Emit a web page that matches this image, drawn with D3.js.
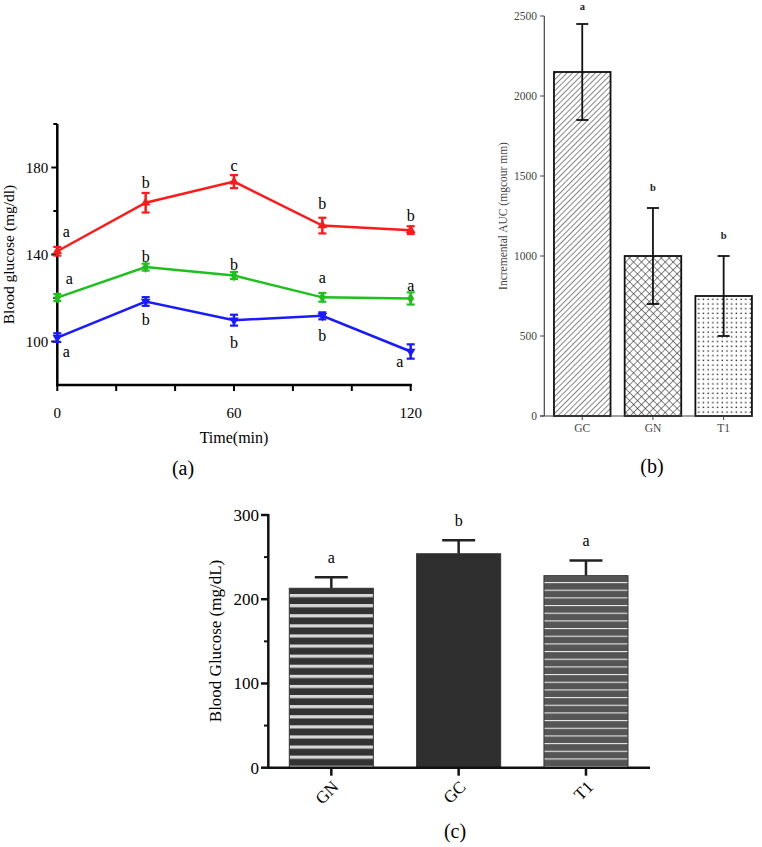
<!DOCTYPE html>
<html><head><meta charset="utf-8">
<script src="https://cdn.jsdelivr.net/npm/d3@7"></script>
<style>body{margin:0;background:#fff}svg{display:block}text{font-family:"Liberation Serif","Times New Roman",serif}</style>
</head><body>
<script>
// ---- Panel (a) data ----
const times = [0, 30, 60, 90, 120];
const redMean = [141.5, 163.8, 173.5, 153.3, 151.2];
const redErr = [2.0, 4.5, 3.0, 3.6, 1.8];
const redLetters = ["a", "b", "c", "b", "b"];
const greenMean = [120.2, 134.2, 130.3, 120.3, 119.8];
const greenErr = [1.6, 1.6, 1.6, 2.0, 2.8];
const greenLetters = ["a", "b", "b", "a", "a"];
const blueMean = [101.8, 118.4, 109.8, 111.8, 95.4];
const blueErr = [2.0, 2.0, 2.5, 1.6, 3.3];
const blueLetters = ["a", "b", "b", "b", "a"];
const aYTicks = [100, 140, 180];
const aXTicks = [0, 60, 120];

// ---- Panel (b) data ----
const bCats = ["GC", "GN", "T1"];
const bMean = [2150, 1000, 750];
const bErr = [300, 300, 250];
const bLetters = ["a", "b", "b"];
const bTicks = [0, 500, 1000, 1500, 2000, 2500];

// ---- Panel (c) data ----
const cCats = ["GN", "GC", "T1"];
const cMean = [213, 254, 228];
const cErr = [13, 16, 18];
const cLetters = ["a", "b", "a"];
const cTicks = [0, 100, 200, 300];

const W = 762, H = 847;
const svg = d3.select("body").append("svg").attr("width", W).attr("height", H);
const defs = svg.append("defs");

// patterns
const p1 = defs.append("pattern").attr("id", "diag").attr("patternUnits", "userSpaceOnUse")
  .attr("width", 4).attr("height", 4).attr("patternTransform", "rotate(45)");
p1.append("rect").attr("width", 4).attr("height", 4).attr("fill", "#fff");
p1.append("line").attr("x1", 0).attr("y1", 0).attr("x2", 0).attr("y2", 4).attr("stroke", "#222").attr("stroke-width", 1.1);

const p2 = defs.append("pattern").attr("id", "cross").attr("patternUnits", "userSpaceOnUse")
  .attr("width", 5.6).attr("height", 5.6).attr("patternTransform", "rotate(45)");
p2.append("rect").attr("width", 5.6).attr("height", 5.6).attr("fill", "#fff");
p2.append("line").attr("x1", 0).attr("y1", 0).attr("x2", 0).attr("y2", 5.6).attr("stroke", "#222").attr("stroke-width", 1.1);
p2.append("line").attr("x1", 0).attr("y1", 0).attr("x2", 5.6).attr("y2", 0).attr("stroke", "#222").attr("stroke-width", 1.1);

const p3 = defs.append("pattern").attr("id", "dots").attr("patternUnits", "userSpaceOnUse")
  .attr("width", 4.7).attr("height", 4.7).attr("x", 1).attr("y", 1);
p3.append("rect").attr("width", 4.7).attr("height", 4.7).attr("fill", "#fff");
p3.append("rect").attr("x", 1.5).attr("y", 1.5).attr("width", 1.4).attr("height", 1.4).attr("fill", "#222");

const p4 = defs.append("pattern").attr("id", "stripeGN").attr("patternUnits", "userSpaceOnUse")
  .attr("width", 10).attr("height", 10.1).attr("y", 594);
p4.append("rect").attr("width", 10).attr("height", 10.1).attr("fill", "#333");
p4.append("rect").attr("y", 0).attr("width", 10).attr("height", 3.2).attr("fill", "#d8d8d8");

const p5 = defs.append("pattern").attr("id", "stripeT1").attr("patternUnits", "userSpaceOnUse")
  .attr("width", 10).attr("height", 7.67).attr("y", 582);
p5.append("rect").attr("width", 10).attr("height", 7.67).attr("fill", "#555");
p5.append("rect").attr("y", 0).attr("width", 10).attr("height", 1.1).attr("fill", "#e8e8e8");

// ================= Panel (a) =================
const xA = d3.scaleLinear().domain([0, 120]).range([57.3, 410.7]);
const yA = d3.scaleLinear().domain([80, 200]).range([385, 124]);
const gA = svg.append("g");
const axW = 2.5;
// y axis
gA.append("line").attr("x1", xA(0)).attr("x2", xA(0)).attr("y1", yA(200)).attr("y2", yA(80)).attr("stroke", "#000").attr("stroke-width", axW);
[120, 160, 200].forEach(v => gA.append("line").attr("x1", xA(0) - 4).attr("x2", xA(0)).attr("y1", yA(v)).attr("y2", yA(v)).attr("stroke", "#000").attr("stroke-width", 2));
aYTicks.forEach(v => {
  gA.append("line").attr("x1", xA(0) - 6).attr("x2", xA(0)).attr("y1", yA(v)).attr("y2", yA(v)).attr("stroke", "#000").attr("stroke-width", 2);
  gA.append("text").attr("x", xA(0) - 9).attr("y", yA(v)).attr("dy", "0.35em").attr("text-anchor", "end").attr("font-size", 15).text(v);
});
// x axis
gA.append("line").attr("x1", xA(0) - 1.2).attr("x2", xA(120) + 1.2).attr("y1", yA(80)).attr("y2", yA(80)).attr("stroke", "#000").attr("stroke-width", axW);
d3.range(0, 121, 20).forEach(v => gA.append("line").attr("x1", xA(v)).attr("x2", xA(v)).attr("y1", yA(80)).attr("y2", yA(80) + 6).attr("stroke", "#000").attr("stroke-width", 2));
aXTicks.forEach(v => gA.append("text").attr("x", xA(v)).attr("y", 413).attr("dy", "0.35em").attr("text-anchor", "middle").attr("font-size", 15).text(v));
gA.append("text").attr("x", xA(60)).attr("y", 437).attr("dy", "0.35em").attr("text-anchor", "middle").attr("font-size", 16).text("Time(min)");
gA.append("text").attr("transform", `translate(9,${yA(140)}) rotate(-90)`).attr("dy", "0.35em").attr("text-anchor", "middle").attr("font-size", 15.5).text("Blood glucose (mg/dl)");
gA.append("text").attr("x", 183).attr("y", 468).attr("dy", "0.35em").attr("text-anchor", "middle").attr("font-size", 20).text("(a)");

const series = [
  { mean: redMean, err: redErr, letters: redLetters, color: "#ff1a1a", sym: d3.symbolTriangle, rot: 0, lab: [[9, -20], [0, -20], [0, -16], [0, -22], [0, -15]] },
  { mean: greenMean, err: greenErr, letters: greenLetters, color: "#1ec01e", sym: d3.symbolDiamond, rot: 0, lab: [[12, -19], [0, -11], [0, -11], [0, -20], [0, -13]] },
  { mean: blueMean, err: blueErr, letters: blueLetters, color: "#1a1aff", sym: d3.symbolTriangle, rot: 180, lab: [[9, 14], [0, 18], [0, 22], [0, 20], [-11, 10]] }
];
const line = d3.line().x((d, i) => xA(times[i])).y(d => yA(d));
series.forEach(s => {
  const g = gA.append("g");
  g.append("path").attr("d", line(s.mean)).attr("fill", "none").attr("stroke", s.color).attr("stroke-width", 2.5);
  s.mean.forEach((m, i) => {
    const x = xA(times[i]);
    g.append("line").attr("x1", x).attr("x2", x).attr("y1", yA(m - s.err[i])).attr("y2", yA(m + s.err[i])).attr("stroke", s.color).attr("stroke-width", 2.5);
    [m - s.err[i], m + s.err[i]].forEach(v => g.append("line").attr("x1", x - 4).attr("x2", x + 4).attr("y1", yA(v)).attr("y2", yA(v)).attr("stroke", s.color).attr("stroke-width", 2.2));
    g.append("path").attr("d", d3.symbol().type(s.sym).size(40)()).attr("transform", `translate(${x},${yA(m)}) rotate(${s.rot})`).attr("fill", s.color);
    g.append("text").attr("x", x + s.lab[i][0]).attr("y", yA(m) + s.lab[i][1]).attr("dy", "0.35em").attr("text-anchor", "middle").attr("font-size", 16).text(s.letters[i]);
  });
});

// ================= Panel (b) =================
const xB = d3.scaleBand().domain(bCats).range([546.9, 759]).paddingInner(0.2).paddingOuter(0.1);
const yB = d3.scaleLinear().domain([0, 2500]).range([416, 16]);
const gB = svg.append("g");
const fillsB = ["url(#diag)", "url(#cross)", "url(#dots)"];
bCats.forEach((c, i) => {
  gB.append("rect").attr("x", xB(c)).attr("y", yB(bMean[i])).attr("width", xB.bandwidth()).attr("height", yB(0) - yB(bMean[i]))
    .attr("fill", fillsB[i]).attr("stroke", "#111").attr("stroke-width", 1.8);
});
bCats.forEach((c, i) => {
  const x = xB(c) + xB.bandwidth() / 2;
  gB.append("line").attr("x1", x).attr("x2", x).attr("y1", yB(bMean[i] - bErr[i])).attr("y2", yB(bMean[i] + bErr[i])).attr("stroke", "#111").attr("stroke-width", 1.8);
  [bMean[i] - bErr[i], bMean[i] + bErr[i]].forEach(v => gB.append("line").attr("x1", x - 6).attr("x2", x + 6).attr("y1", yB(v)).attr("y2", yB(v)).attr("stroke", "#111").attr("stroke-width", 1.8));
  gB.append("text").attr("x", x).attr("y", Math.max(6, yB(bMean[i] + bErr[i]) - 21)).attr("dy", "0.35em").attr("text-anchor", "middle").attr("font-size", 10.5).attr("font-weight", "bold").attr("fill", "#222").text(bLetters[i]);
  gB.append("line").attr("x1", x).attr("x2", x).attr("y1", yB(0)).attr("y2", yB(0) + 4).attr("stroke", "#444").attr("stroke-width", 1);
  gB.append("text").attr("x", x).attr("y", 428).attr("dy", "0.35em").attr("text-anchor", "middle").attr("font-size", 11.5).attr("fill", "#444").text(c);
});
gB.append("line").attr("x1", 544.3).attr("x2", 544.3).attr("y1", yB(2500)).attr("y2", yB(0)).attr("stroke", "#444").attr("stroke-width", 1.2);
gB.append("line").attr("x1", 540).attr("x2", 752.5).attr("y1", yB(0)).attr("y2", yB(0)).attr("stroke", "#444").attr("stroke-width", 1.2);
bTicks.forEach(v => {
  gB.append("line").attr("x1", 540).attr("x2", 544.3).attr("y1", yB(v)).attr("y2", yB(v)).attr("stroke", "#444").attr("stroke-width", 1);
  gB.append("text").attr("x", 537).attr("y", yB(v)).attr("dy", "0.35em").attr("text-anchor", "end").attr("font-size", 11.5).attr("fill", "#444").text(v);
});
gB.append("text").attr("transform", `translate(503,${216}) rotate(-90)`).attr("dy", "0.35em").attr("text-anchor", "middle").attr("font-size", 11.5).attr("fill", "#444").text("Incremental AUC (mgcour mm)");
gB.append("text").attr("x", 652).attr("y", 466).attr("dy", "0.35em").attr("text-anchor", "middle").attr("font-size", 20).text("(b)");

// ================= Panel (c) =================
const xC = d3.scaleBand().domain(cCats).range([268.3, 649]).paddingInner(0.34).paddingOuter(0.165);
const yC = d3.scaleLinear().domain([0, 300]).range([767.7, 515]);
const gC = svg.append("g");
const fillsC = ["url(#stripeGN)", "#2f2f2f", "url(#stripeT1)"];
cCats.forEach((c, i) => {
  const x = xC(c) + xC.bandwidth() / 2;
  gC.append("line").attr("x1", x).attr("x2", x).attr("y1", yC(cMean[i])).attr("y2", yC(cMean[i] + cErr[i])).attr("stroke", "#222").attr("stroke-width", 2.5);
  gC.append("line").attr("x1", x - 16.5).attr("x2", x + 16.5).attr("y1", yC(cMean[i] + cErr[i])).attr("y2", yC(cMean[i] + cErr[i])).attr("stroke", "#222").attr("stroke-width", 2.5);
  gC.append("rect").attr("x", xC(c)).attr("y", yC(cMean[i])).attr("width", xC.bandwidth()).attr("height", yC(0) - yC(cMean[i]))
    .attr("fill", fillsC[i]).attr("stroke", "#333").attr("stroke-width", 1);
  gC.append("text").attr("x", x).attr("y", yC(cMean[i] + cErr[i]) - 20).attr("dy", "0.35em").attr("text-anchor", "middle").attr("font-size", 16).text(cLetters[i]);
  gC.append("line").attr("x1", x).attr("x2", x).attr("y1", yC(0)).attr("y2", yC(0) + 8).attr("stroke", "#111").attr("stroke-width", 2.5);
  gC.append("text").attr("transform", `translate(${x + 4},${yC(0) + 16}) rotate(-45)`).attr("dy", "0.35em").attr("text-anchor", "end").attr("font-size", 17).text(c);
});
gC.append("line").attr("x1", 268.3).attr("x2", 268.3).attr("y1", yC(300) - 1).attr("y2", yC(0)).attr("stroke", "#111").attr("stroke-width", 2.5);
gC.append("line").attr("x1", 267).attr("x2", 650).attr("y1", yC(0)).attr("y2", yC(0)).attr("stroke", "#111").attr("stroke-width", 2.5);
[50, 150, 250].forEach(v => gC.append("line").attr("x1", 264).attr("x2", 268.3).attr("y1", yC(v)).attr("y2", yC(v)).attr("stroke", "#111").attr("stroke-width", 2));
cTicks.forEach(v => {
  gC.append("line").attr("x1", 261).attr("x2", 268.3).attr("y1", yC(v)).attr("y2", yC(v)).attr("stroke", "#111").attr("stroke-width", 2.5);
  gC.append("text").attr("x", 259).attr("y", yC(v)).attr("dy", "0.35em").attr("text-anchor", "end").attr("font-size", 17).text(v);
});
gC.append("text").attr("transform", `translate(215,${641}) rotate(-90)`).attr("dy", "0.35em").attr("text-anchor", "middle").attr("font-size", 17).text("Blood Glucose (mg/dL)");
gC.append("text").attr("x", 455).attr("y", 831).attr("dy", "0.35em").attr("text-anchor", "middle").attr("font-size", 20).text("(c)");
</script>
</body></html>
